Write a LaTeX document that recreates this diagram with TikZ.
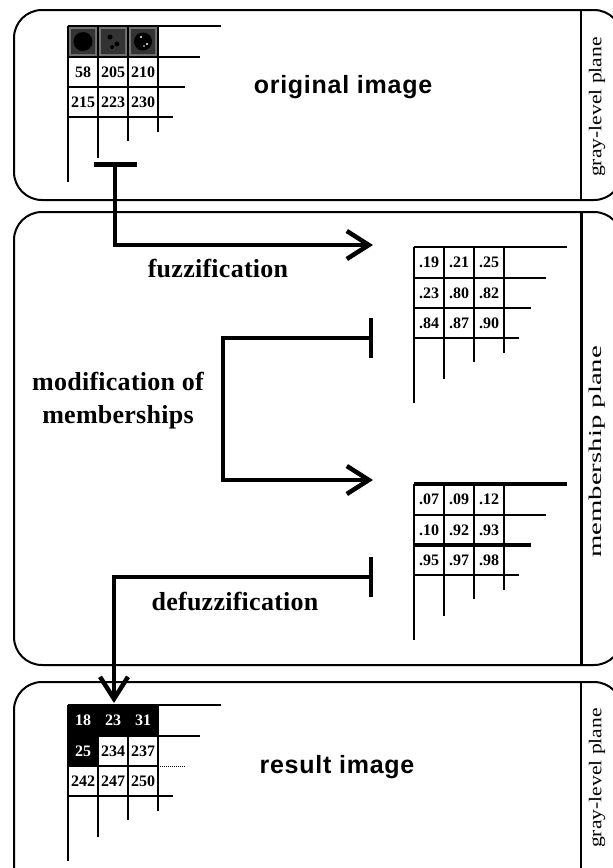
\documentclass[tikz,border=0pt]{standalone}
\usepackage{fontspec}
\setmainfont{Liberation Serif}
\newfontfamily\titlefont[LetterSpace=3]{Liberation Sans}
\newfontfamily\stepfont[LetterSpace=1]{Liberation Serif}
\usetikzlibrary{arrows.meta}

\tikzset{
  panel/.style={draw, line width=2pt, rounded corners=28pt},
  divider/.style={line width=2pt},
  gridline/.style={line width=2.8pt},
  flow/.style={line width=4.5pt, line join=miter},
  val/.style={font=\bfseries\fontsize{16}{16}\selectfont, inner sep=0pt},
  invval/.style={val, text=white},
  title/.style={font=\titlefont\bfseries\fontsize{25}{30}\selectfont, anchor=base},
  steplabel/.style={font=\stepfont\bfseries\fontsize{26}{33}\selectfont, align=center},
  planelabel/.style={rotate=90, font=\fontsize{18}{18}\selectfont, inner sep=0pt},
  pics/staircase/.style={code={
    \draw[gridline] (0,0) -- (153,0) (0,31) -- (132,31) (0,61) -- (90,61) (0,91) -- (105,91)
      (0,0) -- (0,156) (30,0) -- (30,132) (60,0) -- (60,115) (90,0) -- (90,106);
    \draw[gridline,#1] (90,61) -- (117,61);
  }},
  pics/staircase/.default={},
}

\begin{document}
\begin{tikzpicture}[x=1pt, y=-1pt]
\useasboundingbox (0,0) rectangle (613,868);
\clip (0,0) rectangle (613,868);

% three planes
\draw[panel] (14,10) rectangle (622,200);
\draw[panel] (14,212) rectangle (622,665);
\draw[panel] (14,682) rectangle (622,895);
\draw[divider] (581,10) -- (581,200);
\draw[divider, line width=3pt] (581,212) -- (581,665);
\draw[divider] (581,682) -- (581,868);

\node[planelabel] (plane1) at (597,107) {\scalebox{1.2}[1]{gray-level plane}};
\node[planelabel] (plane2) at (597,452) {\scalebox{1.6}[1]{membership plane}};
\node[planelabel] (plane3) at (597,778) {\scalebox{1.2}[1]{gray-level plane}};

% original image: top row shows the picture itself
\fill[black!55] (68,26) rectangle (158,57);
\fill[black!80] (71,29) rectangle (95,54) (101,29) rectangle (125,54) (131,29) rectangle (155,54);
\fill[black] (83,41.5) circle (9.5);
\fill[black] (110,37) circle (2.5) (117,44) circle (2.5) (112,47) circle (2);
\fill[black] (143,41.5) circle (9);
\fill[white] (141,37) circle (1.2) (147,44) circle (1.2) (144,46) circle (0.9);
\pic (orig) at (68,26) {staircase};
\foreach \v [count=\i from 0] in {58,205,210}
  \node[val] (o2\i) at ({83+30*\i},72) {\v};
\foreach \v [count=\i from 0] in {215,223,230}
  \node[val] (o3\i) at ({83+30*\i},102) {\v};
\node[title] (origtitle) at (343,93) {original image};

% membership plane after fuzzification
\pic (memA) at (414,247) {staircase};
\foreach \v [count=\i from 0] in {.19,.21,.25}
  \node[val] (a1\i) at ({429+30*\i},262.5) {\v};
\foreach \v [count=\i from 0] in {.23,.80,.82}
  \node[val] (a2\i) at ({429+30*\i},293) {\v};
\foreach \v [count=\i from 0] in {.84,.87,.90}
  \node[val] (a3\i) at ({429+30*\i},323) {\v};

% membership plane after modification
\pic (memB) at (414,484) {staircase};
\draw[line width=3.8pt] (414,484) -- (567,484) (414,545) -- (531,545);
\foreach \v [count=\i from 0] in {.07,.09,.12}
  \node[val] (b1\i) at ({429+30*\i},499.5) {\v};
\foreach \v [count=\i from 0] in {.10,.92,.93}
  \node[val] (b2\i) at ({429+30*\i},530) {\v};
\foreach \v [count=\i from 0] in {.95,.97,.98}
  \node[val] (b3\i) at ({429+30*\i},560) {\v};

% result image
\fill[black] (68,705) rectangle (158,736) (68,736) rectangle (98,766);
\pic (res) at (68,705) {staircase={line width=1pt, densely dotted}};
\foreach \v [count=\i from 0] in {18,23,31}
  \node[invval] (r1\i) at ({83+30*\i},720.5) {\v};
\node[invval] (r20) at (83,751) {25};
\foreach \v [count=\i from 1] in {234,237}
  \node[val] (r2\i) at ({83+30*\i},751) {\v};
\foreach \v [count=\i from 0] in {242,247,250}
  \node[val] (r3\i) at ({83+30*\i},781) {\v};
\node[title] (restitle) at (337,773) {result image};

% processing steps
\coordinate (fuzzBar) at (115,162);
\coordinate (fuzzTip) at (373,245);
\coordinate (modBar) at (373,338);
\coordinate (modSpine) at (223,400);
\coordinate (modTip) at (373,480);
\coordinate (defBar) at (373,577);
\coordinate (defTip) at (114,703);

\draw[flow, {Bar[width=43pt]}-{Straight Barb[length=22pt,width=28pt]}] (fuzzBar) |- (fuzzTip);
\draw[flow, {Bar[width=40pt]}-{Straight Barb[length=22pt,width=28pt]}] (modBar) -| (modSpine) |- (modTip);
\draw[flow, {Bar[width=40pt]}-{Straight Barb[length=22pt,width=28pt]}] (defBar) -| (defTip);

\node[steplabel, anchor=base] (fuzzlabel) at (218,277) {fuzzification};
\node[steplabel] (modlabel) at (118,401) {modification of\\memberships};
\node[steplabel, anchor=base] (deflabel) at (235,610) {defuzzification};
\end{tikzpicture}
\end{document}
